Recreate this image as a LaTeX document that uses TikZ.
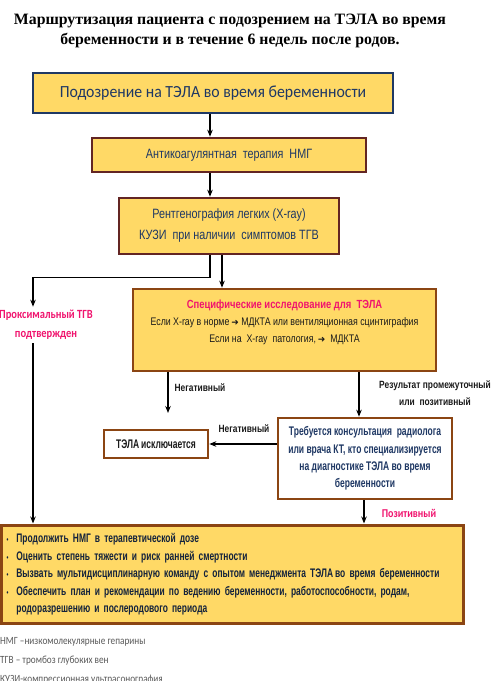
\documentclass[tikz,border=0pt]{standalone}
\usepackage{fontspec}
\setmainfont{Liberation Sans}
\newfontfamily\narrowfont[FakeStretch=0.8]{Liberation Sans}
\newfontfamily\condfont[FakeStretch=0.68]{Liberation Sans}
\newfontfamily\titlefont{Liberation Serif}
\newfontfamily\notefont[FakeStretch=0.93]{Carlito}
\newfontfamily\roundfont[FakeStretch=0.84]{Carlito}
\newfontfamily\symfont{DejaVu Sans}
\usetikzlibrary{arrows.meta,positioning,calc}
\definecolor{rtyellow}{HTML}{FFD966}
\definecolor{rtnavy}{HTML}{1F3864}
\definecolor{rtmaroon}{HTML}{632523}
\definecolor{rtbrown}{HTML}{8B4513}
\definecolor{rtpink}{HTML}{F0146E}
\definecolor{rtgray}{HTML}{595959}
\definecolor{rtink}{HTML}{1A1A1A}
\tikzset{
  mainBox/.style={draw=rtnavy, line width=2.8pt, fill=rtyellow, inner sep=0pt, text=rtnavy, font=\notefont\fontsize{17}{20}\selectfont},
  stepBox/.style={draw=rtmaroon, line width=2.6pt, fill=rtyellow, align=center, inner sep=0pt, text=rtnavy, font=\narrowfont\fontsize{13.5}{21}\selectfont},
  specBox/.style={draw=rtbrown, line width=2.6pt, fill=rtyellow, align=center, inner sep=0pt, text=rtink, font=\narrowfont\fontsize{11}{17}\selectfont},
  whiteBox/.style={draw=rtbrown, line width=2.6pt, fill=white, align=center, inner sep=0pt, font=\condfont\bfseries\fontsize{12.5}{17.3}\selectfont},
  flowArrow/.style={-{Stealth[length=7pt,width=5.5pt]}, line width=1.4pt, draw=black},
  flowLabel/.style={font=\narrowfont\bfseries\fontsize{10.5}{17}\selectfont, align=center, text=rtink},
  pinkLabel/.style={font=\roundfont\bfseries\fontsize{12.5}{19}\selectfont, align=center, text=rtpink},
  footNote/.style={font=\roundfont\fontsize{11}{13}\selectfont, text=rtgray, inner sep=0pt, anchor=base west}
}
\begin{document}
\begin{tikzpicture}[x=1pt,y=-1pt]
  \useasboundingbox (0,0) rectangle (496,681);
  % title
  \node[font=\titlefont\bfseries\fontsize{15.8}{20}\selectfont, align=center] (title) at (230,31)
    {Маршрутизация пациента с подозрением на ТЭЛА во время\\беременности и в течение 6 недель после родов.};
  % main chain
  \node[mainBox, minimum width=360pt, minimum height=40pt] (susp) at (213,93)
    {Подозрение на ТЭЛА во время беременности};
  \node[stepBox, minimum width=274pt, minimum height=34pt] (anticoag) at (229,155)
    {Антикоагулянтная\ \ терапия\ \ НМГ};
  \node[stepBox, minimum width=220pt, minimum height=56pt] (xray) at (229,226)
    {Рентгенография легких (X-ray)\\КУЗИ\ \ при наличии\ \ симптомов ТГВ};
  \node[specBox, minimum width=303pt, minimum height=82pt] (spec) at (284.5,330)
    {{\color{rtpink}\bfseries\fontsize{11.8}{17}\selectfont Специфические исследование для\ \ ТЭЛА}\\
     Если X-ray в норме\,{\symfont\fontsize{9}{10}\selectfont ➜}\ МДКТА или вентиляционная сцинтиграфия\\
     Если на\ \ X-ray\ \ патология,\,{\symfont\fontsize{9}{10}\selectfont ➜}\ \ МДКТА\\ \mbox{}};
  \node[whiteBox, minimum width=174pt, minimum height=81pt, text=rtnavy] (consult) at (365,458.5)
    {Требуется консультация\ \ радиолога\\или врача КТ, кто специализируется\\на диагностике ТЭЛА во время\\беременности};
  \node[whiteBox, minimum width=104pt, minimum height=28pt, text=rtink] (excl) at (156,444)
    {ТЭЛА\,исключается};
  \node[specBox, line width=3pt, minimum width=462pt, minimum height=98pt, text width=452pt, inner xsep=5pt, align=left, text=rtnavy!60!black,
        font=\condfont\bfseries\fontsize{12.4}{17.5}\selectfont] (reco) at (232.5,574)
    {\begin{tabular}{@{}l@{\hspace{8pt}}l@{}}
      {\fontsize{8}{10}\selectfont\textbullet} & Продолжить НМГ в терапевтической дозе\\
      {\fontsize{8}{10}\selectfont\textbullet} & Оценить степень тяжести и риск ранней смертности\\
      {\fontsize{8}{10}\selectfont\textbullet} & Вызвать мультидисциплинарную команду с опытом менеджмента ТЭЛА\,во время беременности\\
      {\fontsize{8}{10}\selectfont\textbullet} & Обеспечить план и рекомендации по ведению беременности, работоспособности, родам,\\
       & родоразрешению и послеродового периода
     \end{tabular}};
  % labels
  \node[pinkLabel] (prox) at (46,325) {Проксимальный ТГВ\\подтвержден};
  \node[flowLabel] (negA) at (200,388) {Негативный};
  \node[flowLabel] (interm) at (435,393) {Результат промежуточный\\или\ \ позитивный};
  \node[flowLabel] (negB) at (244,429) {Негативный};
  \node[pinkLabel, font=\roundfont\bfseries\fontsize{12}{14}\selectfont] (pos) at (409,513) {Позитивный};
  % rails
  \coordinate (spineA) at (210,0);
  \coordinate (spineB) at (222,0);
  \coordinate (leftRail) at (33,0);
  \coordinate (posRail) at (359,0);
  \coordinate (finRail) at (364,0);
  \coordinate (negEnd) at (168,413);
  % connectors
  \draw[flowArrow] (spineA |- susp.south) -- (spineA |- anticoag.north);
  \draw[flowArrow] (spineA |- anticoag.south) -- (spineA |- xray.north);
  \draw[flowArrow] (spineA |- xray.south) -- ++(0,22) -| (leftRail |- prox.north);
  \draw[flowArrow] (spineB |- xray.south) -- (spineB |- spec.north);
  \draw[flowArrow] (leftRail |- prox.south) -- (leftRail |- reco.north);
  \draw[flowArrow] (negEnd |- spec.south) -- (negEnd);
  \draw[flowArrow] (posRail |- spec.south) -- (posRail |- consult.north);
  \draw[flowArrow] (consult.west |- excl.east) -- (excl.east);
  \draw[flowArrow] (finRail |- consult.south) -- (finRail |- reco.north);
  % abbreviations
  \foreach \txt [count=\i] in {НМГ –низкомолекулярные гепарины, ТГВ – тромбоз глубоких вен, КУЗИ-компрессионная ультрасонография}
    \node[footNote] (note\i) at (0,625+19*\i) {\txt};
\end{tikzpicture}
\end{document}
